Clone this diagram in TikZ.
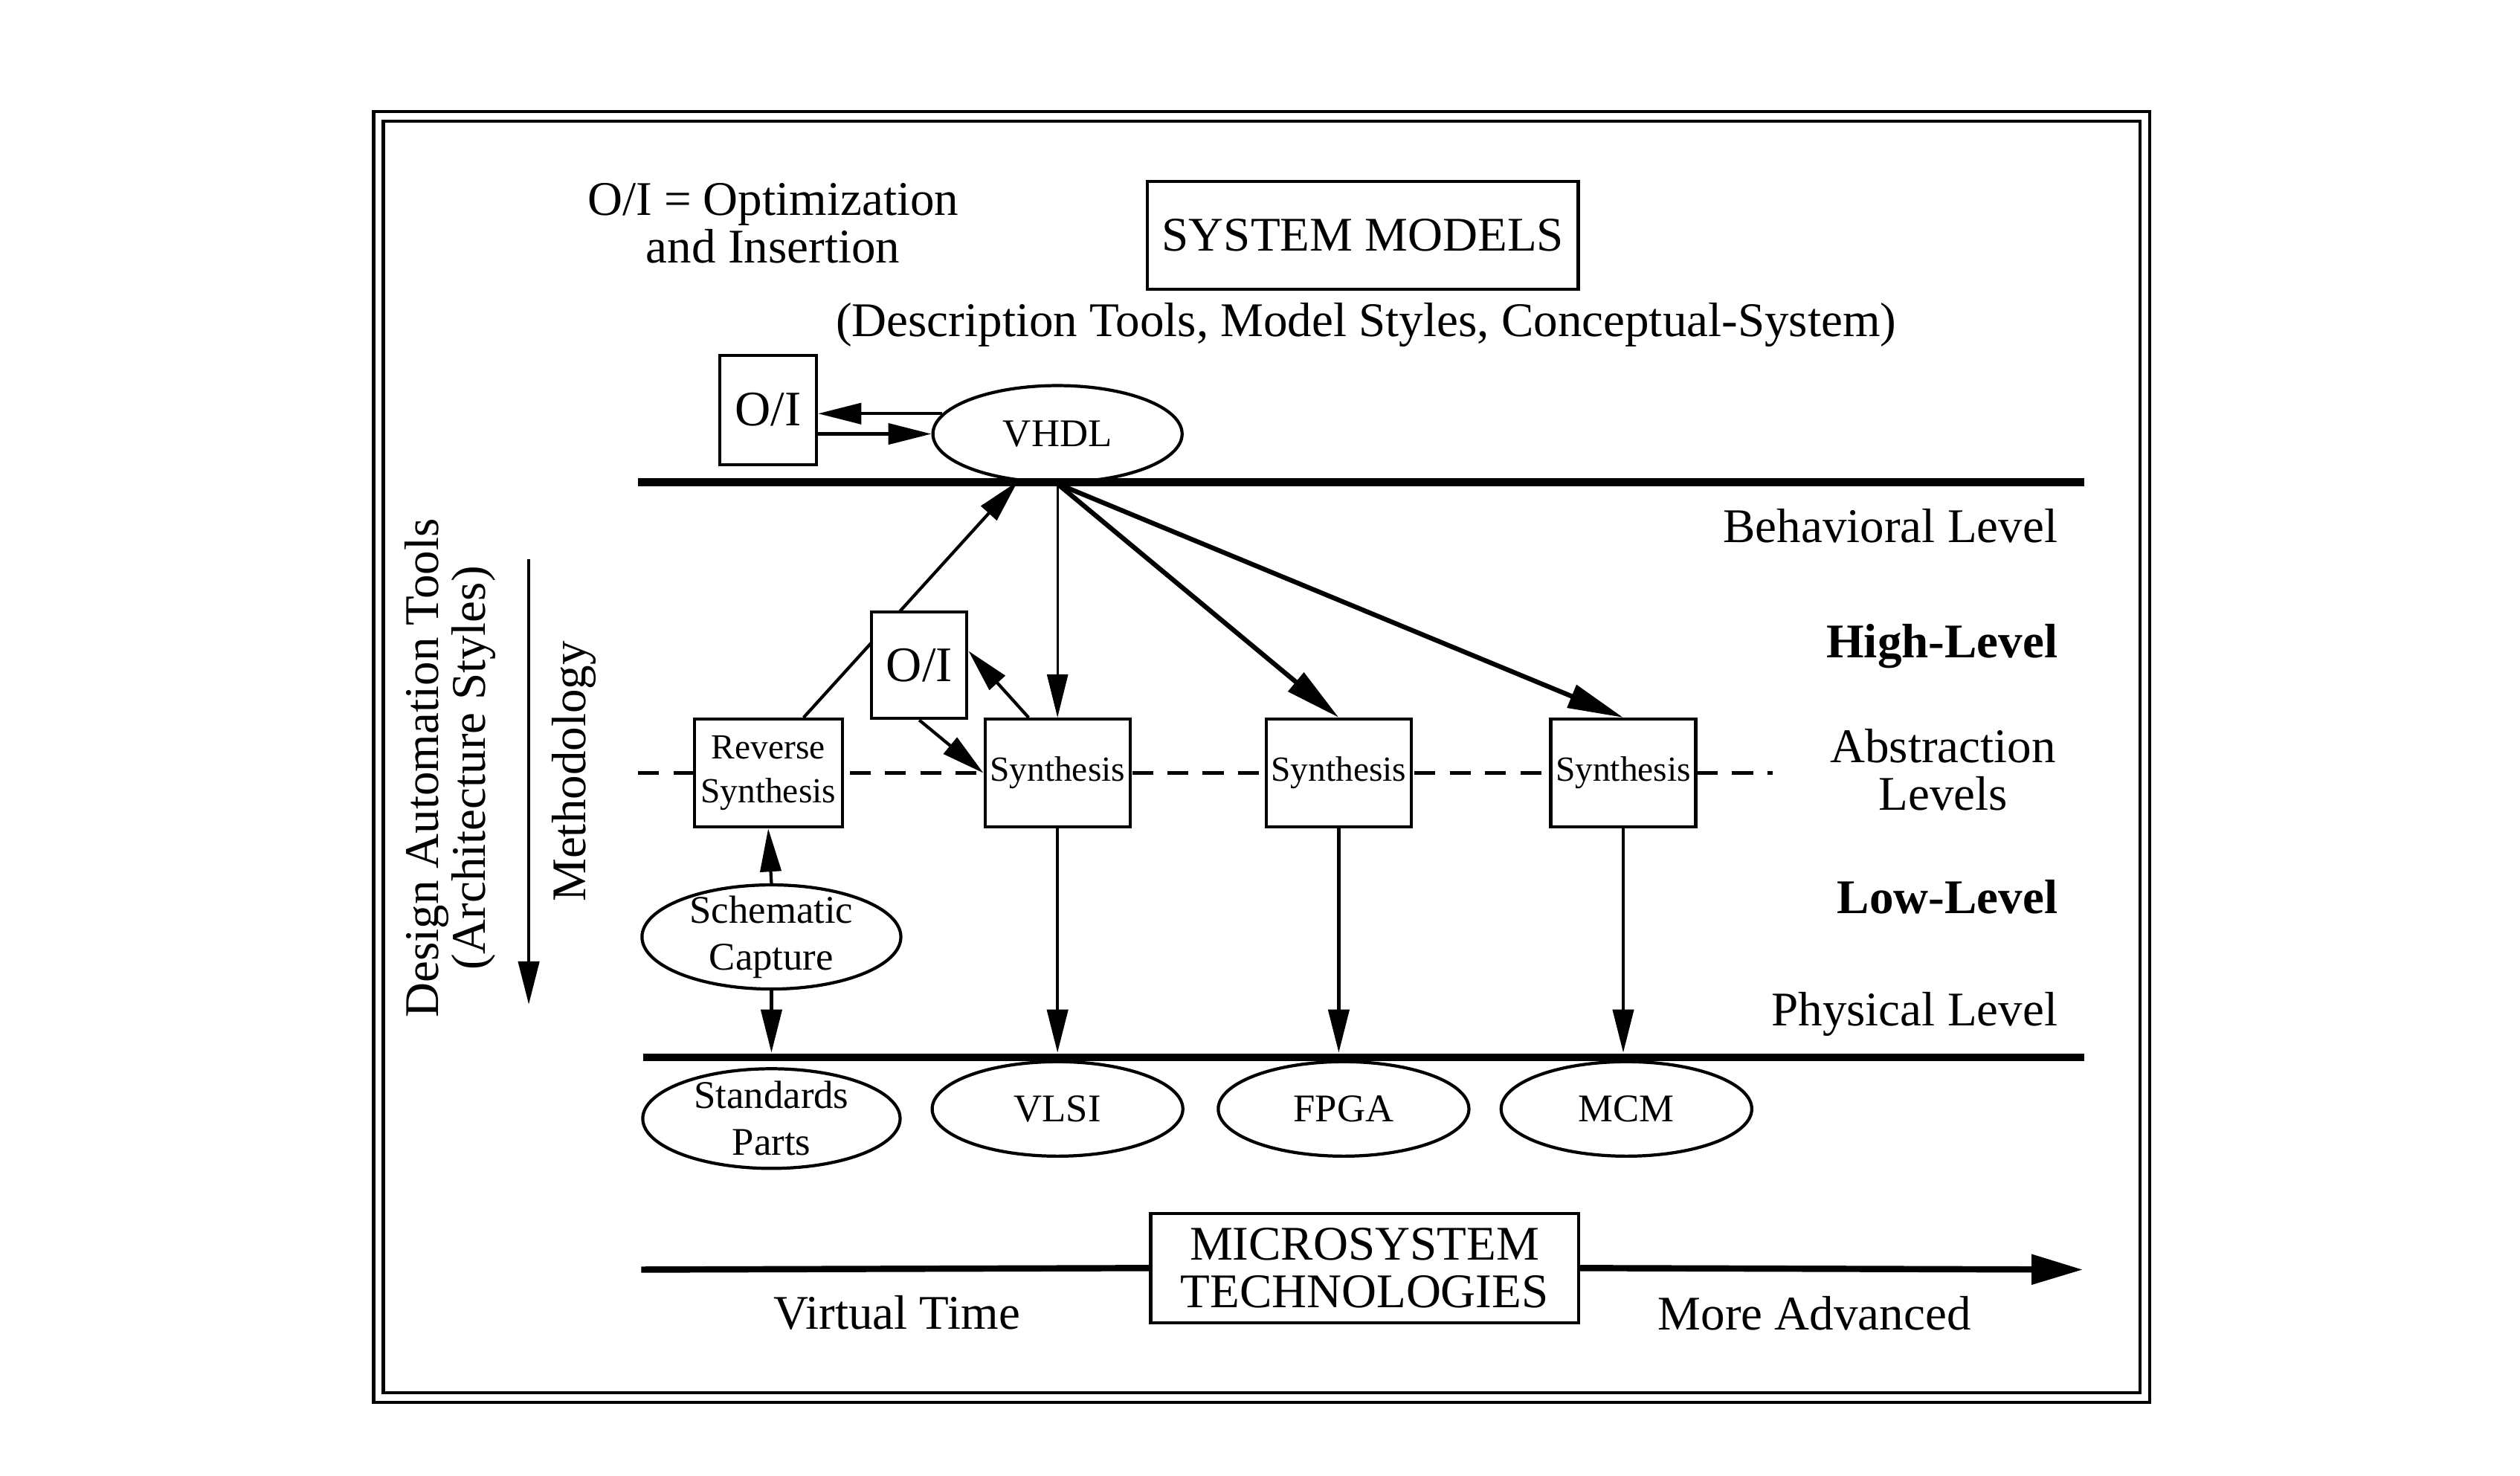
\documentclass[tikz,border=0pt]{standalone}
\usepackage{fontspec}
\setmainfont{Liberation Serif}
\usetikzlibrary{arrows.meta, calc, shapes.geometric}

\begin{document}
\begin{tikzpicture}[
  x=0.021614cm, y=-0.021614cm,
  every node/.style={align=center, font=\fontsize{18.5}{18}\selectfont},
  box/.style={rectangle, draw, line width=1.2pt, fill=white, inner sep=0pt},
  synbox/.style={box, minimum width=1.95cm, minimum height=1.45cm,
                 font=\fontsize{13.5}{17}\selectfont},
  oibox/.style={box, minimum width=1.28cm, minimum height=1.43cm,
                font=\fontsize{19}{19}\selectfont},
  oval/.style={ellipse, draw, line width=1.2pt, fill=white, inner sep=-4pt,
               minimum width=3.37cm, minimum height=1.27cm,
               font=\fontsize{15}{18}\selectfont},
  levelbold/.style={font=\fontsize{18.5}{18}\selectfont\bfseries},
  levelline/.style={line width=3pt},
  arr/.style={-{Triangle[length=5.8mm, width=2.8mm]}, line width=1.2pt},
  thinarr/.style={arr, line width=0.8pt},
  bigarr/.style={line width=1.8pt, -{Triangle[length=7.5mm, width=3.2mm]}}
]
  \fill[white] (0,0) rectangle (1568,918);
  \useasboundingbox (0,0) rectangle (1568,918);
  \draw[line width=1.3pt, double, double distance=2.4pt] (235.5,72.5) rectangle (1334.5,869.5);

  \node (legend) at (481,139) {O/I = Optimization\\and Insertion};
  \node[box, minimum width=5.79cm, minimum height=1.45cm] (sysmod) at (848,146.5) {SYSTEM MODELS};
  \node (sysdesc) at (850,202) {(Description Tools, Model Styles, Conceptual-System)};

  \node[oibox, minimum width=1.30cm, minimum height=1.47cm] (oitop) at (478,255) {O/I};
  \node[oval, minimum width=3.35cm, minimum height=1.30cm] (vhdl) at (658,270) {VHDL};

  \coordinate (behL) at (397,300);
  \coordinate (behR) at (1297,300);
  \draw[levelline] (behL) -- (behR);

  \node[anchor=east] (behav) at (1286,327) {Behavioral Level};
  \node[anchor=east, levelbold] (high) at (1286,402) {High-Level};
  \node (abstr) at (1209,479) {Abstraction\\Levels};
  \node[anchor=east, levelbold] (low) at (1286,558) {Low-Level};
  \node[anchor=east] (phys) at (1286,631) {Physical Level};

  \coordinate (dashL) at (397,481);
  \coordinate (dashR) at (1103,481);
  \draw[line width=1.6pt, dash pattern=on 8pt off 5.5pt] (dashL) -- (dashR);

  \node[synbox, minimum width=1.99cm] (rev) at (478,481) {Reverse\\Synthesis};
  \node[synbox] (s1) at (658,481) {Synthesis};
  \node[synbox] (s2) at (833,481) {Synthesis};
  \node[synbox] (s3) at (1010,481) {Synthesis};

  \draw[arr] ($(rev.north)+(22,0)$) -- (vhdl.-130);
  \node[oibox] (oimid) at (572,414) {O/I};
  \draw[arr] ($(s1.north)+(-18,0)$) -- ($(oimid.east)+(0,-9)$);
  \draw[arr] (oimid.south) -- (s1.west);
  \draw[thinarr] (vhdl.south) -- (s1.north);
  \draw[bigarr] (vhdl.south) -- (s2.north);
  \draw[bigarr] (vhdl.south) -- (s3.north);

  \draw[arr] (vhdl.170) -- (oitop.east |- vhdl.170);
  \draw[arr] (oitop.east |- vhdl.west) -- (vhdl.west);

  \node[oval, minimum width=3.48cm, minimum height=1.40cm] (schem) at (480,583) {Schematic\\Capture};
  \draw[arr] (schem.north) -- (rev.south);

  \node[oval, minimum width=3.46cm, minimum height=1.34cm] (stdparts) at (480,696) {Standards\\Parts};
  \node[oval] (vlsi) at (658,690) {VLSI};
  \node[oval] (fpga) at (836,690) {FPGA};
  \node[oval] (mcm) at (1012,690) {MCM};

  \coordinate (phyL) at (400,658);
  \coordinate (phyR) at (1297,658);
  \draw[levelline] (phyL) -- (phyR);
  \draw[arr] (schem.south) -- ($(schem.south |- phyL)+(0,-3)$);
  \foreach \s in {s1,s2,s3}
    \draw[arr] (\s.south) -- ($(\s.south |- phyL)+(0,-3)$);

  \node[box, minimum width=5.75cm, minimum height=1.47cm] (mst) at (849,789) {MICROSYSTEM\\TECHNOLOGIES};
  \coordinate (timeL) at (399,790);
  \coordinate (timeR) at (1296,790);
  \draw[line width=2.4pt] (timeL) -- (mst.west);
  \draw[line width=2.4pt, -{Triangle[length=6.9mm, width=3.9mm]}] (mst.east) -- (timeR);
  \node (vtime) at (558,817) {Virtual Time};
  \node (moreadv) at (1129,817) {More Advanced};

  \node[rotate=90, font=\fontsize{18.5}{16.5}\selectfont] (datools) at (280,478) {Design Automation Tools\\(Architecture Styles)};
  \node[rotate=90] (meth) at (357,480) {Methodology};
  \coordinate (methtop) at (329,348);
  \coordinate (methbot) at (329,625);
  \draw[arr, line width=1.3pt] (methtop) -- (methbot);
\end{tikzpicture}
\end{document}
